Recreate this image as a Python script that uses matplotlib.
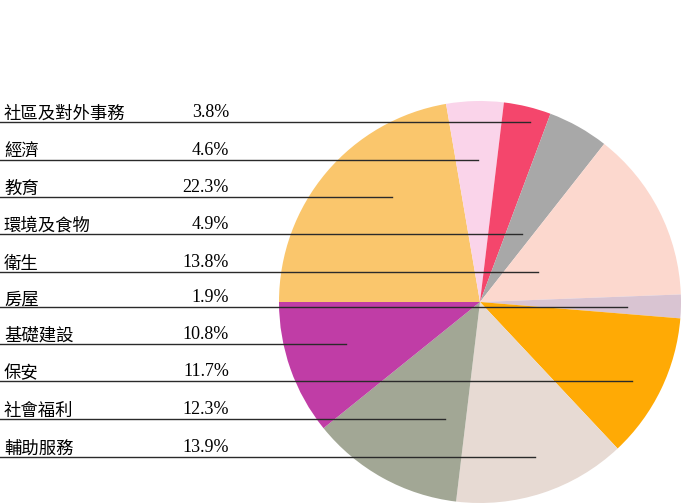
import matplotlib.pyplot as plt

# category order as listed on the left
labels = ['社區及對外事務', '經濟', '教育', '環境及食物', '衛生',
          '房屋', '基礎建設', '保安', '社會福利', '輔助服務']
shares = [3.8, 4.6, 22.3, 4.9, 13.8, 1.9, 10.8, 11.7, 12.3, 13.9]

# pie drawing order, clockwise from 9 o'clock
pie_order = ['教育', '經濟', '社區及對外事務', '環境及食物', '衛生',
             '房屋', '保安', '輔助服務', '社會福利', '基礎建設']
colors = {
    '教育': '#FAC66C',
    '經濟': '#FAD4EA',
    '社區及對外事務': '#F4466C',
    '環境及食物': '#A8A8A8',
    '衛生': '#FCD8CE',
    '房屋': '#D9C4D2',
    '保安': '#FFAA05',
    '輔助服務': '#E7DAD3',
    '社會福利': '#A2A795',
    '基礎建設': '#C03DA6',
}

# end of each leader line (x, pixels) and row position
line_ends = [530, 478, 392, 522, 538, 627, 346, 632, 445, 535]
row_y = [122, 160, 197, 234, 272, 307, 344, 381, 419, 457]

W, H = 681, 503
fig = plt.figure(figsize=(W / 100, H / 100), dpi=100)
ax = fig.add_axes([0, 0, 1, 1])

vals = [shares[labels.index(k)] for k in pie_order]
# y axis is inverted below, so counterclock=True shows clockwise on screen
ax.pie(vals, colors=[colors[k] for k in pie_order], startangle=180,
       counterclock=True, center=(480, 302), radius=201,
       wedgeprops=dict(linewidth=0), frame=True)
ax.set_xlim(0, W)
ax.set_ylim(H, 0)
ax.set_aspect('auto')
ax.axis('off')

for lab, val, y, xe in zip(labels, shares, row_y, line_ends):
    ax.plot([0, xe], [y, y], color='#2a2a2a', lw=1, zorder=5)
    ax.text(4, y - 3, lab, fontsize=12.5, family=['Noto Sans CJK TC', 'DejaVu Sans'],
            ha='left', va='baseline', color='black')
    ax.text(229, y - 5, f'{val}%', fontsize=13, family='Liberation Serif',
            ha='right', va='baseline', color='black')

fig.savefig('out.png', dpi=100)
